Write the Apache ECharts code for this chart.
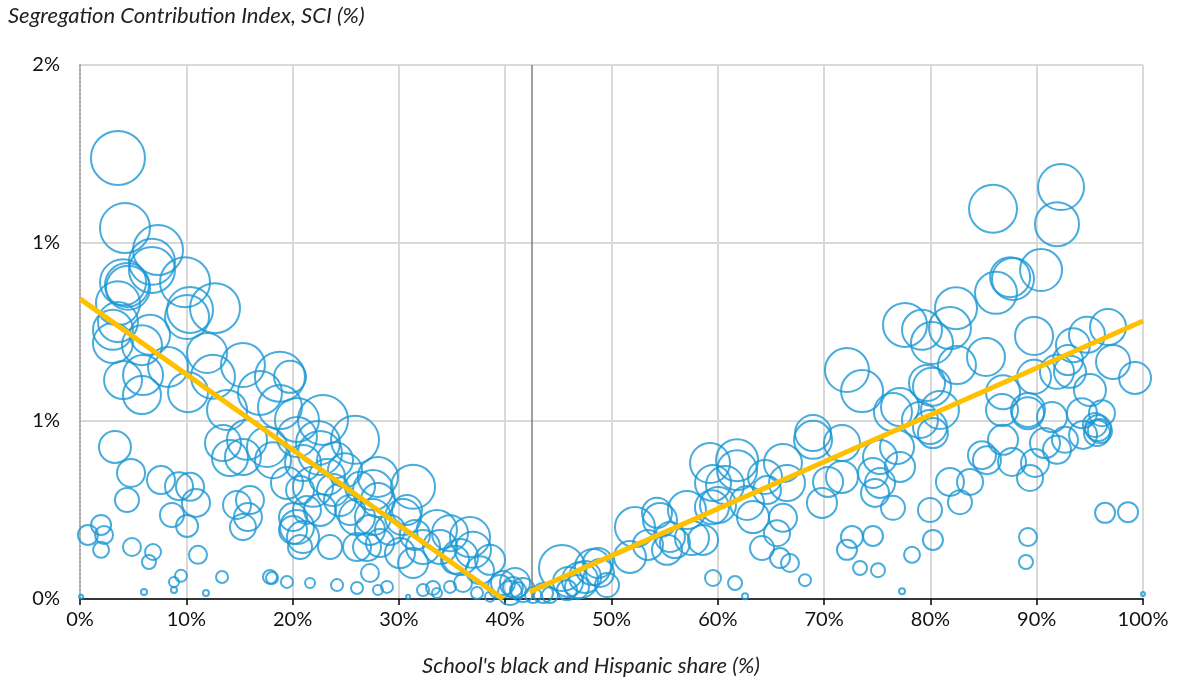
<!DOCTYPE html>
<html>
<head>
<meta charset="utf-8">
<script src="https://cdn.jsdelivr.net/npm/echarts@6/dist/echarts.min.js"></script>
<style>html,body{margin:0;padding:0;background:#fff}#c{width:1182px;height:681px}</style>
</head>
<body>
<div id="c"></div>
<script>
// Schools: [black & Hispanic share (%), SCI (%), enrollment]
const schools = [
[3.57,1.239,7290],[4.23,1.042,6250],[7.34,0.980,6250],[6.77,0.947,5290],[6.77,0.924,5290],
[4.05,0.890,5290],[4.42,0.882,4840],[4.52,0.874,4840],[9.88,0.890,6250],[10.35,0.812,5290],
[12.70,0.817,6250],[3.57,0.831,4840],[3.10,0.756,4000],[3.57,0.778,4000],[6.59,0.742,4000],
[10.07,0.792,4840],[3.10,0.719,4000],[5.83,0.713,4000],[4.05,0.615,3610],[5.83,0.573,3610],
[5.93,0.629,4000],[8.28,0.652,4000],[10.16,0.581,4000],[11.95,0.691,4000],[12.51,0.624,4840],
[15.33,0.657,4840],[18.81,0.624,6250],[16.93,0.579,4840],[13.83,0.531,4000],[18.81,0.539,4840],
[20.41,0.503,4840],[13.45,0.438,3240],[14.11,0.396,3240],[15.71,0.447,4000],[15.33,0.399,3240],
[17.59,0.427,4000],[18.16,0.390,3240],[19.47,0.326,2560],[20.70,0.306,1960],[14.77,0.264,1960],
[15.99,0.278,1960],[15.80,0.230,1960],[15.33,0.202,1690],[20.04,0.230,1960],[20.04,0.194,1960],
[20.70,0.146,1440],[21.35,0.250,1960],[3.29,0.427,2560],[4.80,0.354,1960],[4.42,0.278,1440],
[7.62,0.334,1960],[9.31,0.317,1960],[10.35,0.315,1960],[10.91,0.270,1960],[8.65,0.236,1440],
[10.07,0.205,1210],[0.75,0.180,1000],[1.98,0.208,1000],[2.26,0.180,810],[1.98,0.138,640],
[4.89,0.146,810],[6.87,0.132,640],[6.49,0.104,490],[11.10,0.124,810],[9.50,0.065,360],
[8.84,0.048,250],[8.84,0.025,90],[6.02,0.020,90],[11.85,0.017,90],[13.36,0.062,360],
[17.87,0.062,490],[18.06,0.059,360],[19.47,0.048,360],[21.64,0.045,250],[0.1,0.006,40],
[19.76,0.624,2560],[22.86,0.503,6250],[25.87,0.447,5760],[22.39,0.438,4840],[22.58,0.410,4840],
[20.41,0.455,4000],[20.98,0.382,3240],[21.92,0.315,4000],[23.24,0.343,3240],[23.80,0.306,2560],
[26.34,0.315,2250],[28.03,0.343,4000],[31.33,0.315,4840],[27.56,0.306,4000],[28.03,0.278,2890],
[26.06,0.230,3240],[27.56,0.230,3240],[27.28,0.194,2250],[30.39,0.230,3240],[30.76,0.250,2250],
[33.58,0.194,4000],[34.81,0.185,3240],[36.69,0.174,4000],[36.97,0.138,3240],[38.57,0.110,2250],
[35.75,0.118,3240],[33.87,0.146,2890],[32.27,0.146,2890],[31.33,0.101,2250],[30.10,0.129,2250],
[20.41,0.202,2890],[20.98,0.174,2560],[23.52,0.146,1440],[27.00,0.146,1960],[26.06,0.146,1960],
[28.22,0.157,1960],[24.18,0.039,360],[26.06,0.031,360],[27.28,0.073,810],[28.03,0.025,250],
[28.88,0.034,360],[30.86,0.006,40],[32.27,0.025,360],[33.21,0.031,490],[33.58,0.017,250],
[34.81,0.034,360],[36.03,0.045,810],[37.35,0.017,360],[38.57,0.006,250],[39.79,0.045,1440],
[40.73,0.034,1000],[41.20,0.025,640],[23.99,0.390,3240],[24.93,0.362,2890],[24.46,0.278,2560],
[25.40,0.250,2250],[22.58,0.250,2560],[29.16,0.194,2250],[31.51,0.180,2250],[35.28,0.110,1960],
[37.63,0.081,1960],[40.92,0.045,2250],[39.51,0.034,1440],[40.45,0.017,1440],[41.67,0.025,1440],
[42.62,0.011,640],[43.56,0.017,1000],[44.21,0.011,640],[45.34,0.087,5290],[45.91,0.048,2250],
[46.75,0.034,1440],[45.81,0.025,1000],[47.04,0.053,3240],[47.51,0.062,2560],[48.26,0.090,3240],
[48.73,0.101,2250],[49.58,0.039,1440],[48.92,0.073,1960],[52.21,0.202,4000],[51.74,0.118,2560],
[53.43,0.152,2250],[54.28,0.242,2250],[54.56,0.222,2890],[55.22,0.138,2250],[55.97,0.157,2250],
[57.10,0.250,3610],[55.50,0.174,2250],[57.57,0.171,2890],[58.61,0.166,2250],[59.27,0.382,4000],
[59.55,0.326,3240],[59.45,0.258,2890],[59.55,0.059,640],[77.61,0.770,4840],[72.15,0.643,4840],
[73.57,0.584,4410],[77.14,0.539,3610],[76.48,0.525,3610],[79.02,0.503,3240],[80.15,0.719,4410],
[79.68,0.607,3240],[68.96,0.447,3610],[68.96,0.466,3240],[71.68,0.438,3240],[75.26,0.399,2890],
[76.86,0.427,2890],[77.14,0.371,2250],[74.60,0.354,2250],[75.26,0.326,2250],[74.79,0.298,1960],
[76.48,0.256,1440],[71.68,0.343,2560],[70.37,0.329,2250],[69.80,0.270,2250],[66.51,0.326,3240],
[66.13,0.382,3610],[64.44,0.343,2890],[64.63,0.306,1960],[61.81,0.390,4410],[61.81,0.362,4000],
[60.68,0.320,3610],[60.02,0.264,3240],[62.75,0.270,2890],[63.31,0.230,2560],[66.13,0.228,1960],
[65.57,0.185,1690],[64.16,0.143,1440],[65.85,0.115,1000],[66.79,0.101,810],[61.62,0.045,490],
[62.56,0.008,90],[68.20,0.053,360],[72.62,0.174,1210],[72.15,0.138,1000],[74.60,0.177,1000],
[73.38,0.087,490],[75.07,0.081,490],[78.27,0.124,640],[77.33,0.022,90],[85.89,1.096,5760],
[92.29,1.157,5290],[91.91,1.053,4840],[90.41,0.924,4410],[87.77,0.899,4410],[87.50,0.904,4000],
[86.17,0.860,4410],[82.41,0.817,4410],[81.84,0.761,4410],[79.21,0.756,4000],[82.50,0.657,3610],
[85.23,0.680,3610],[89.75,0.739,3610],[80.15,0.596,3610],[80.90,0.531,3610],[79.96,0.483,2890],
[80.24,0.466,2250],[86.83,0.581,2890],[86.74,0.531,2560],[89.18,0.531,2890],[89.18,0.522,2560],
[86.83,0.447,2250],[87.68,0.385,1960],[89.84,0.382,1960],[89.37,0.340,1690],[85.32,0.390,1960],
[84.85,0.404,1960],[81.84,0.329,1960],[83.73,0.329,1690],[82.78,0.272,1440],[79.96,0.250,1440],
[80.24,0.166,1000],[89.18,0.174,810],[88.99,0.104,490],[89.75,0.624,2890],[91.44,0.511,2250],
[90.78,0.438,2250],[91.91,0.419,1960],[92.66,0.447,1690],[91.91,0.638,2890],[92.94,0.671,2250],
[93.41,0.713,2890],[94.73,0.742,3240],[96.71,0.764,3240],[93.13,0.638,2560],[95.01,0.587,2560],
[97.18,0.666,2890],[99.25,0.621,2560],[94.26,0.522,2250],[94.36,0.461,1960],[96.14,0.522,1690],
[95.48,0.489,1440],[95.77,0.480,1690],[95.95,0.472,1440],[95.67,0.466,1690],[96.43,0.242,1000],
[98.59,0.244,1000],[100,0.014,40]
];
const trendBelow = [[0, 0.843], [39.8, 0]];
const trendAbove = [[42.3, 0.02], [100, 0.781]];
const cutoffShare = 42.5;
const yTickLabels = ['0%', '1%', '1%', '2%'];
const yTitle = 'Segregation Contribution Index, SCI (%)';
const xTitle = "School's black and Hispanic share (%)";

const chart = echarts.init(document.getElementById('c'), null, {renderer: 'canvas'});
const FONT = 'Lato';
chart.setOption({
  animation: false,
  backgroundColor: '#ffffff',
  grid: {left: 80, right: 39, top: 65, bottom: 82},
  xAxis: {
    type: 'value', min: 0, max: 100, interval: 10,
    axisLine: {show: true, onZero: false, lineStyle: {color: '#000', width: 1.5}},
    axisTick: {show: true, length: 6, lineStyle: {color: '#000', width: 1.5}},
    splitLine: {show: true, showMinLine: false, lineStyle: {color: '#d9d9d9', width: 2}},
    axisLabel: {formatter: '{value}%', fontFamily: FONT, fontSize: 20, color: '#111', margin: 11}
  },
  yAxis: {
    type: 'value', min: 0, max: 1.5, interval: 0.5,
    axisLine: {show: true, lineStyle: {color: '#a8a8a8', width: 2, type: [2, 2]}},
    axisTick: {show: false},
    splitLine: {show: true, lineStyle: {color: '#d9d9d9', width: 2}},
    axisLabel: {formatter: v => yTickLabels[Math.round(v / 0.5)], fontFamily: FONT, fontSize: 20, color: '#111', margin: 20}
  },
  graphic: [
    {type: 'text', left: 8, top: 5, style: {text: yTitle, font: 'italic 22px Lato', fill: '#222'}},
    {type: 'text', left: 'center', top: 655, style: {text: xTitle, font: 'italic 22px Lato', fill: '#222'}}
  ],
  series: [
    {
      type: 'scatter',
      data: schools,
      symbol: 'circle',
      symbolSize: d => 2 * Math.sqrt(d[2] / 10),
      itemStyle: {color: 'rgba(0,0,0,0)', borderColor: '#1a97d5', borderWidth: 2},
      emphasis: {disabled: true},
      markLine: {
        silent: true, symbol: ['none', 'none'], label: {show: false},
        lineStyle: {color: '#7f7f7f', width: 1.5, type: 'solid'},
        data: [{xAxis: cutoffShare}]
      },
      z: 2
    },
    {type: 'line', data: trendBelow, showSymbol: false, lineStyle: {color: '#FFC000', width: 5}, z: 5, silent: true},
    {type: 'line', data: trendAbove, showSymbol: false, lineStyle: {color: '#FFC000', width: 5}, z: 5, silent: true}
  ]
});
</script>
</body>
</html>
